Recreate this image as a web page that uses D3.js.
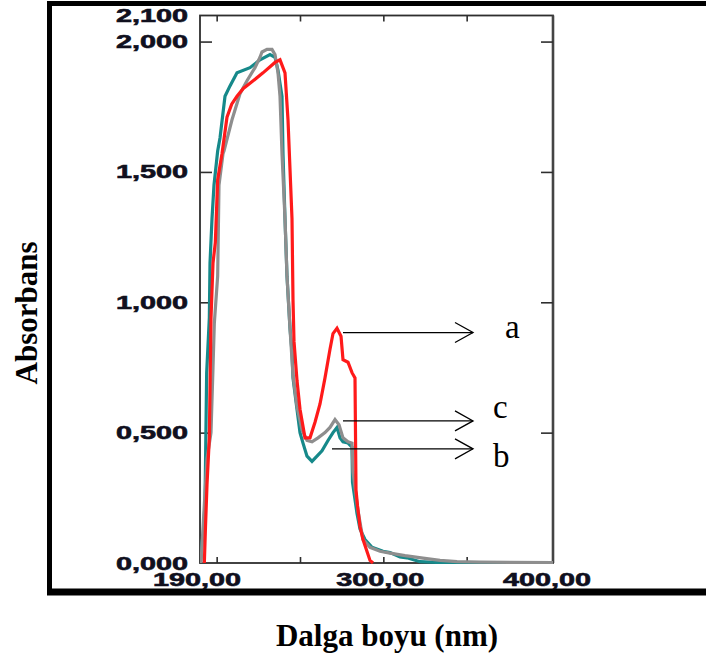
<!DOCTYPE html>
<html>
<head>
<meta charset="utf-8">
<script src="https://cdn.jsdelivr.net/npm/d3@7"></script>
<style>
  html, body { margin: 0; padding: 0; background: #fff; }
  svg { display: block; }
</style>
</head>
<body>
<svg id="chart" width="706" height="659"></svg>
<script>
// ---- data (wavelength nm, absorbance) ----
const wavelengthA = [192.6,193.3,194.2,195.6,196.6,197.8,199.2,200.6,203.2,206.2,209,212.2,216,220,227.8,235,238,241,242.8,244,245.2,245.8,246.4,248.2,250,253,256,259,262,265,268,269.8,272.2,274.6,275.8,278.8,281.2,283,283.6,284.5,286,287.8,292,293.8];
const absorbA    = [0,0.14,0.30,0.48,0.94,1.15,1.23,1.47,1.57,1.71,1.76,1.79,1.82,1.84,1.88,1.92,1.93,1.88,1.70,1.51,1.32,1.01,0.85,0.70,0.59,0.48,0.48,0.54,0.61,0.71,0.82,0.88,0.90,0.87,0.78,0.77,0.73,0.71,0.28,0.22,0.14,0.09,0.01,0];

const wavelengthB = [190.3,191.2,192,193,194,195.6,196,197.2,198.4,200.6,202,205,208,212.2,220,226,232,235,236.8,239.2,239.8,241,242.2,244,245.2,245.8,248.2,250,251.8,254.2,257.2,260.2,263.2,266.8,269.8,272.2,274,275.8,278.8,281.2,281.5,284.2,286,289,293.2,299.8,304,310,314.2,322,340,401.8];
const absorbB    = [0,0.08,0.11,0.23,0.73,0.94,1.15,1.32,1.45,1.58,1.63,1.79,1.83,1.88,1.90,1.93,1.95,1.94,1.89,1.79,1.57,1.32,1.10,0.90,0.81,0.71,0.59,0.50,0.46,0.41,0.39,0.41,0.43,0.47,0.50,0.52,0.48,0.465,0.46,0.445,0.31,0.19,0.13,0.09,0.06,0.045,0.04,0.023,0.02,0.005,0,0];

const wavelengthC = [190.6,191.5,192.4,194.2,196.6,197.8,198.6,200.6,201.4,203.8,204.4,209.2,214,218.2,223,226,227.2,230.2,233.2,235,236.8,238,239.2,241,242.2,244,245.8,248.2,251.2,254.2,257.2,260.8,265,268,271,273.4,275.8,278.8,281.2,281.8,283,284.8,287.8,292,298,304,313,323.8,334,344.2,358,401.8];
const absorbC    = [0,0.1,0.2,0.4,0.5,0.75,0.92,1.10,1.45,1.57,1.58,1.70,1.80,1.85,1.90,1.94,1.96,1.97,1.97,1.95,1.88,1.79,1.57,1.32,1.10,0.90,0.72,0.60,0.51,0.47,0.465,0.48,0.50,0.52,0.55,0.53,0.48,0.465,0.46,0.35,0.29,0.20,0.09,0.06,0.045,0.038,0.028,0.019,0.01,0.005,0.003,0.002];

const seriesNames  = ["b", "c", "a"];
const seriesColors = ["#16898a", "#8e8e8e", "#ff1a1a"];

const yTickValues = [0, 0.5, 1.0, 1.5, 2.0, 2.1];
const yTickLabels = ["0,000", "0,500", "1,000", "1,500", "2,000", "2,100"];
const xTickValues = [190, 300, 400];
const xTickLabels = ["190,00", "300,00", "400,00"];
const xMinorTicks = [200, 250, 300, 350];
const yMinorTicks = [0.5, 1.0, 1.5, 2.0];

// annotation arrows: label, start wavelength, absorbance, end wavelength
const annLabels = ["a", "c", "b"];
const annStartNm = [275.8, 275.8, 269.2];
const annValue   = [0.884, 0.545, 0.438];
const annEndNm   = [353.8, 353.8, 353.8];

const xAxisTitle = "Dalga boyu (nm)";
const yAxisTitle = "Absorbans";

// ---- layout ----
const svg = d3.select("#chart");
const pLeft = 200, pRight = 553, pTop = 15.5, pBottom = 563;

const x = d3.scaleLinear().domain([190, 401.8]).range([pLeft, pRight]);
const y = d3.scaleLinear().domain([0, 2.1]).range([pBottom, pTop]);

// outer black frame (open on the right)
svg.append("path")
  .attr("d", `M706,3.5 H49.5 V592 H706`)
  .attr("fill", "none").attr("stroke", "#000").attr("stroke-width", 5);
svg.append("line").attr("x1", 47).attr("x2", 706).attr("y1", 592).attr("y2", 592)
  .attr("stroke", "#000").attr("stroke-width", 7);

// plot box
svg.append("rect")
  .attr("x", pLeft).attr("y", pTop).attr("width", pRight - pLeft).attr("height", pBottom - pTop)
  .attr("fill", "none").attr("stroke", "#2e2e2e").attr("stroke-width", 1.8);
svg.append("line").attr("x1", pRight).attr("x2", pRight).attr("y1", pTop).attr("y2", pBottom)
  .attr("stroke", "#444").attr("stroke-width", 2.6);

// inward tick marks via d3 axes
const tickStyle = g => {
  g.select(".domain").remove();
  g.selectAll(".tick line").attr("stroke", "#2e2e2e").attr("stroke-width", 1.6);
  g.selectAll(".tick text").remove();
};
svg.append("g").attr("transform", `translate(${pLeft},0)`)
  .call(d3.axisLeft(y).tickValues(yMinorTicks).tickSize(-12)).call(tickStyle);
svg.append("g").attr("transform", `translate(${pRight},0)`)
  .call(d3.axisRight(y).tickValues(yMinorTicks).tickSize(-12)).call(tickStyle);
svg.append("g").attr("transform", `translate(0,${pBottom})`)
  .call(d3.axisBottom(x).tickValues(xMinorTicks).tickSize(-6)).call(tickStyle);
svg.append("g").attr("transform", `translate(0,${pTop})`)
  .call(d3.axisTop(x).tickValues(xMinorTicks).tickSize(-6)).call(tickStyle);

// tick labels (bold, wide)
const labelFont = "'Liberation Sans', Arial, sans-serif";
svg.append("g").selectAll("text").data(yTickValues).join("text")
  .attr("x", 188).attr("y", d => y(d) + 6.5)
  .attr("text-anchor", "end")
  .attr("font-family", labelFont).attr("font-weight", "bold").attr("font-size", 18)
  .attr("fill", "#10101e").attr("stroke", "#10101e").attr("stroke-width", 0.6)
  .attr("textLength", 72).attr("lengthAdjust", "spacingAndGlyphs")
  .text((d, i) => yTickLabels[i]);
svg.append("g").selectAll("text").data(xTickValues).join("text")
  .attr("x", d => x(d) - 3).attr("y", 586)
  .attr("text-anchor", "middle")
  .attr("font-family", labelFont).attr("font-weight", "bold").attr("font-size", 18)
  .attr("fill", "#10101e").attr("stroke", "#10101e").attr("stroke-width", 0.6)
  .attr("textLength", 88).attr("lengthAdjust", "spacingAndGlyphs")
  .text((d, i) => xTickLabels[i]);

// curves
const seriesX = [wavelengthB, wavelengthC, wavelengthA];
const seriesY = [absorbB, absorbC, absorbA];
const line = d3.line().x(d => x(d[0])).y(d => y(d[1])).curve(d3.curveLinear);
svg.append("clipPath").attr("id", "plotclip")
  .append("rect").attr("x", pLeft).attr("y", pTop).attr("width", pRight - pLeft).attr("height", pBottom - pTop + 1);
seriesNames.forEach((name, i) => {
  const pts = seriesX[i].map((v, j) => [v, seriesY[i][j]]);
  svg.append("path")
    .datum(pts)
    .attr("clip-path", "url(#plotclip)")
    .attr("fill", "none")
    .attr("stroke", seriesColors[i])
    .attr("stroke-width", 3.2)
    .attr("stroke-linejoin", "miter")
    .attr("d", line);
});

// annotation arrows
const ann = svg.append("g");
const labelOffsets = [[32, 5], [20, -3], [20, 18]];
annLabels.forEach((lab, i) => {
  const x0 = x(annStartNm[i]), x1 = x(annEndNm[i]), yy = y(annValue[i]);
  ann.append("line").attr("x1", x0).attr("x2", x1).attr("y1", yy).attr("y2", yy)
    .attr("stroke", "#000").attr("stroke-width", 1.3);
  ann.append("path")
    .attr("d", `M${x1 - 18},${yy - 10} L${x1},${yy} L${x1 - 18},${yy + 10}`)
    .attr("fill", "none").attr("stroke", "#000").attr("stroke-width", 1.3);
  ann.append("text")
    .attr("x", x1 + labelOffsets[i][0]).attr("y", yy + labelOffsets[i][1])
    .attr("font-family", "'Liberation Serif', 'Times New Roman', serif")
    .attr("font-size", 33).attr("fill", "#000")
    .text(lab);
});

// axis titles
svg.append("text")
  .attr("x", 387).attr("y", 646)
  .attr("text-anchor", "middle")
  .attr("font-family", "'Liberation Serif', 'Times New Roman', serif")
  .attr("font-weight", "bold").attr("font-size", 31).attr("fill", "#000")
  .text(xAxisTitle);
svg.append("text")
  .attr("transform", "translate(37,313) rotate(-90)")
  .attr("text-anchor", "middle")
  .attr("font-family", "'Liberation Serif', 'Times New Roman', serif")
  .attr("font-weight", "bold").attr("font-size", 31).attr("fill", "#000")
  .text(yAxisTitle);
</script>
</body>
</html>
